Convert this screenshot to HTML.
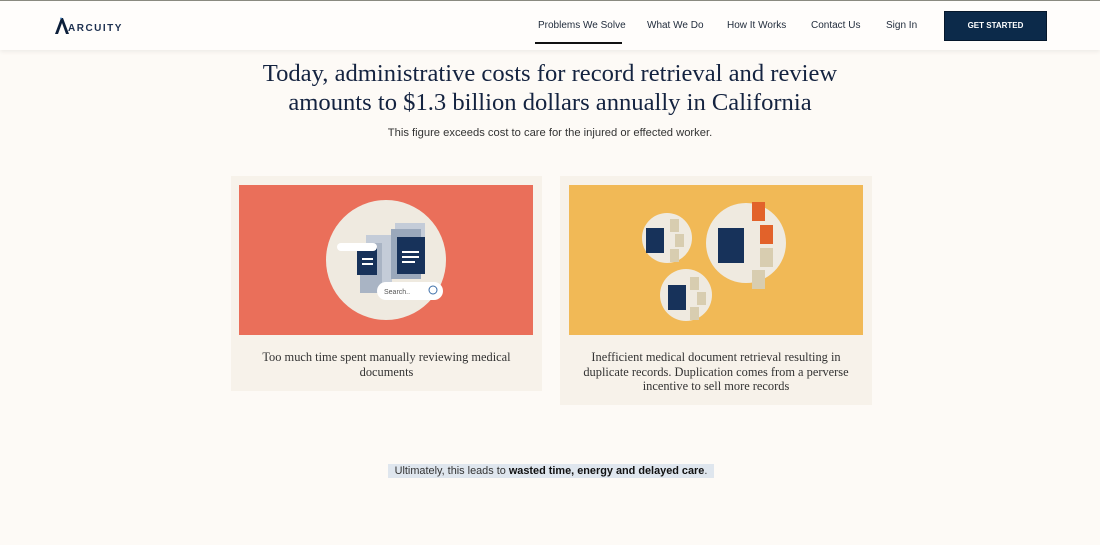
<!DOCTYPE html>
<html><head><meta charset="utf-8"><style>
*{margin:0;padding:0;box-sizing:border-box}
body{width:1100px;height:545px;background:#fdfaf6;position:relative;overflow:hidden;font-family:"Liberation Sans",sans-serif;color:#222}
.abs{position:absolute}
header{position:absolute;left:0;top:0;width:1100px;height:50px;background:#fffdfb;border-top:1px solid #8a8a80;box-shadow:0 2px 4px rgba(0,0,0,0.06)}
.nav{position:absolute;top:19px;font-size:10px;color:#1f2a3a}
h1{position:absolute;left:0;top:60px;width:1100px;text-align:center;font-family:"Liberation Serif",serif;font-weight:normal;font-size:24.6px;line-height:28.5px;color:#142340}
.card{position:absolute;background:#f7f2ea}
.cap{position:absolute;width:100%;text-align:center;font-family:"Liberation Serif",serif;font-size:12.4px;line-height:14.5px;color:#333}
</style></head><body>
<header>
 <div class="abs" style="left:55px;top:16px;height:18px;width:70px">
  <svg width="14" height="18" style="position:absolute;left:0;top:0"><polygon points="0,17 6,1 8,1 14,17 11,17 7,6 3,17" fill="#0d1f3a"/><polygon points="5,2 7,2 6,0" fill="#3c7fc0"/></svg>
  <span style="position:absolute;left:13px;top:6px;font-size:10px;letter-spacing:1.5px;color:#1d3050;font-weight:bold">ARCUITY</span>
 </div>
 <div class="nav" style="left:538px">Problems We Solve</div>
 <div class="abs" style="left:535px;top:41px;width:87px;height:2px;background:#111"></div>
 <div class="nav" style="left:647px">What We Do</div>
 <div class="nav" style="left:727px">How It Works</div>
 <div class="nav" style="left:811px">Contact Us</div>
 <div class="nav" style="left:886px">Sign In</div>
 <div class="abs" style="left:944px;top:10px;width:103px;height:30px;background:#0c2a4a;border:1px solid #06182c;color:#fff;font-size:8px;font-weight:bold;text-align:center;line-height:28px">GET STARTED</div>
</header>
<h1>Today, administrative costs for record retrieval and review<br>amounts to $1.3 billion dollars annually in California</h1>
<div class="abs" style="left:0;top:127px;width:1100px;text-align:center;font-size:11.2px;color:#333">This figure exceeds cost to care for the injured or effected worker.</div>

<div class="card" style="left:231px;top:176px;width:311px;height:215px">
 <svg class="abs" style="left:8px;top:9px" width="294" height="150">
  <rect width="294" height="150" fill="#ea6f5a"/>
  <circle cx="147" cy="75" r="60" fill="#efeae0"/>
  <rect x="127" y="50" width="26" height="55" fill="#c4ccd8"/><rect x="121" y="58" width="22" height="50" fill="#a9b4c4"/>
  <rect x="156" y="38" width="30" height="50" fill="#c4ccd8"/><rect x="152" y="44" width="30" height="50" fill="#9aa8bb"/>
  <rect x="118" y="62" width="20" height="28" fill="#17325a"/>
  <rect x="158" y="52" width="28" height="37" fill="#17325a"/>
  <rect x="163" y="66" width="17" height="2" fill="#fff"/><rect x="163" y="71" width="17" height="2" fill="#fff"/><rect x="163" y="76" width="13" height="2" fill="#fff"/>
  <rect x="123" y="73" width="11" height="2" fill="#fff"/><rect x="123" y="78" width="11" height="2" fill="#fff"/>
  <rect x="98" y="58" width="40" height="8" rx="4" fill="#fff"/>
  <rect x="138" y="97" width="66" height="18" rx="9" fill="#fff"/>
  <text x="145" y="109" font-size="7" fill="#555" font-family="Liberation Sans">Search..</text>
  <circle cx="194" cy="105" r="4" fill="none" stroke="#3c6ea8"/>
 </svg>
 <div class="cap" style="top:174px">Too much time spent manually reviewing medical<br>documents</div>
</div>

<div class="card" style="left:560px;top:176px;width:312px;height:229px">
 <svg class="abs" style="left:9px;top:9px" width="294" height="150">
  <rect width="294" height="150" fill="#f1b956"/>
  <circle cx="98" cy="53" r="25" fill="#efeae0"/>
  <circle cx="177" cy="58" r="40" fill="#efeae0"/>
  <circle cx="117" cy="110" r="26" fill="#efeae0"/>
  <rect x="77" y="43" width="18" height="25" fill="#17325a"/>
  <rect x="149" y="43" width="26" height="35" fill="#17325a"/>
  <rect x="99" y="100" width="18" height="25" fill="#17325a"/>
  <rect x="183" y="17" width="13" height="19" fill="#e2622a"/>
  <rect x="191" y="40" width="13" height="19" fill="#e2622a"/>
  <rect x="191" y="63" width="13" height="19" fill="#d8cdb0"/>
  <rect x="183" y="85" width="13" height="19" fill="#d8cdb0"/>
  <rect x="101" y="34" width="9" height="13" fill="#d8cdb0"/><rect x="106" y="49" width="9" height="13" fill="#d8cdb0"/><rect x="101" y="64" width="9" height="13" fill="#d8cdb0"/>
  <rect x="121" y="92" width="9" height="13" fill="#d8cdb0"/><rect x="128" y="107" width="9" height="13" fill="#d8cdb0"/><rect x="121" y="122" width="9" height="13" fill="#d8cdb0"/>
 </svg>
 <div class="cap" style="top:174px">Inefficient medical document retrieval resulting in<br>duplicate records. Duplication comes from a perverse<br>incentive to sell more records</div>
</div>

<div class="abs" style="left:388px;top:464px;width:326px;height:14px;background:#dfe6ee;font-size:10.9px;line-height:14px;text-align:center;color:#333">Ultimately, this leads to <b style="color:#111">wasted time, energy and delayed care</b>.</div>
</body></html>
